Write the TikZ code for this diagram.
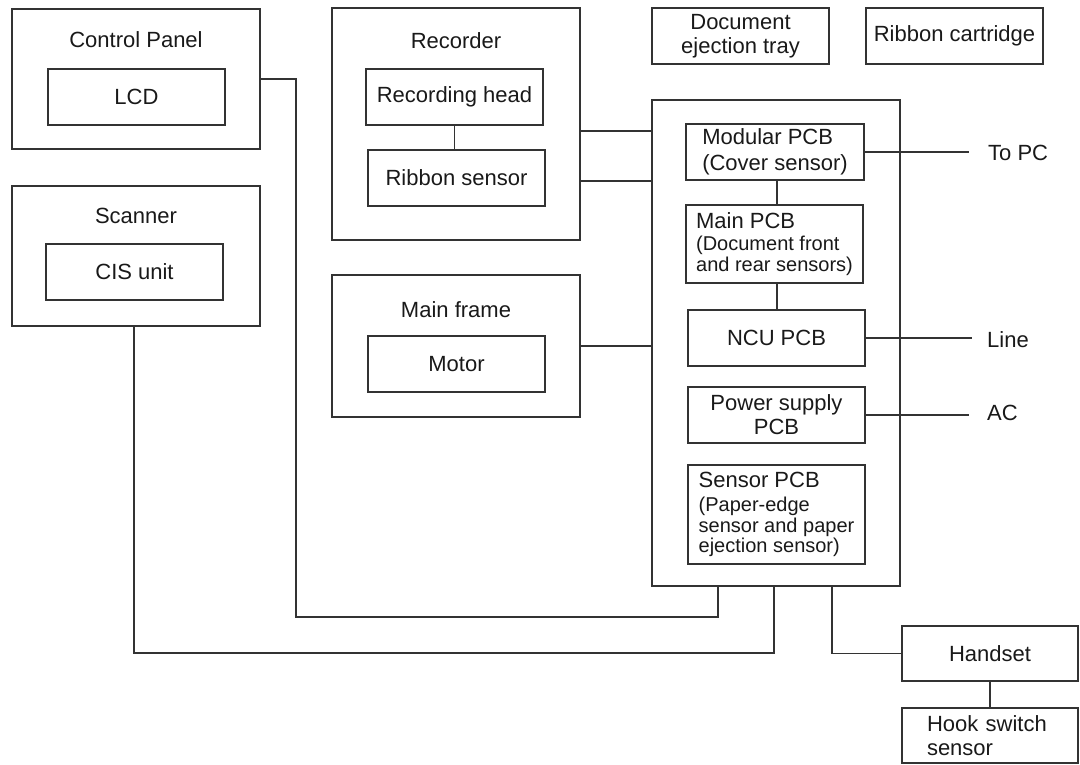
\documentclass[tikz,border=0pt]{standalone}
\usepackage{fontspec}
\setmainfont{Liberation Sans}
\newcommand\mainfs{\fontsize{22}{24}\selectfont}
\newcommand\subfs{\fontsize{20}{20.5}\selectfont}
\begin{document}
\begin{tikzpicture}[x=1pt,y=-1pt,
  every node/.style={font=\mainfs, text=black!90},
  bx/.style 2 args={draw=black!80, line width=1.1pt, inner sep=0pt, minimum width=#1, minimum height=#2},
  wire/.style={draw=black!80, line width=1.1pt},
  ttl/.style={anchor=base, inner sep=0pt},
  lbl/.style={anchor=base west, inner sep=0pt}]
\useasboundingbox (0,0) rectangle (1080,764);
% Control panel
\node[bx={248}{140}] (cp) at (136,79) {};
\node[ttl] (cpt) at (136,47) {Control Panel};
\node[bx={177}{56}] (lcd) at (136.5,97) {LCD};
% Scanner
\node[bx={248}{140}] (sc) at (136,256) {};
\node[ttl] (sct) at (136,223) {Scanner};
\node[bx={177}{56}] (cis) at (134.5,272) {CIS unit};
% Recorder
\node[bx={248}{232}] (rec) at (456,124) {};
\node[ttl] (rect) at (456,48) {Recorder};
\node[bx={177}{56}] (rh) at (454.5,97) {Recording head};
\node[bx={177}{56}] (rs) at (456.5,178) {Ribbon sensor};
% Main frame
\node[bx={248}{142}] (mf) at (456,346) {};
\node[ttl] (mft) at (456,317) {Main frame};
\node[bx={177}{56}] (mot) at (456.5,364) {Motor};
% top right
\node[bx={177}{56}, align=center] (det) at (740.5,36) {Document\\ejection tray};
\node[bx={177}{56}] (rc) at (954.5,36) {Ribbon cartridge};
% main box
\node[bx={248}{486}] (mb) at (776,343) {};
\node[bx={178}{56}, align=left] (mod) at (775,152) {Modular PCB\\[2pt](Cover sensor)};
\node[bx={177}{78}, align=left, font=\subfs] (mpcb) at (774.5,244) {{\mainfs Main PCB}\\[2pt](Document front\\and rear sensors)};
\node[bx={177}{56}] (ncu) at (776.5,338) {NCU PCB};
\node[bx={177}{56}, align=center] (psu) at (776.5,415) {Power supply\\PCB};
\node[bx={177}{99}, align=left, font=\subfs] (sens) at (776.5,514.5) {{\mainfs Sensor PCB}\\[3.5pt](Paper-edge\\sensor and paper\\ejection sensor)};
% handset
\node[bx={176}{55}] (hs) at (990,653.5) {Handset};
\node[bx={176}{55}, align=left, text width=126] (hook) at (990,735.5) {Hook switch\\sensor};
% external labels
\node[lbl] (topc) at (988,160) {To PC};
\node[lbl] (line) at (987,347) {Line};
\node[lbl] (ac) at (987,420) {AC};
\coordinate (e1) at (969,152);
\coordinate (e2) at (972,338);
\coordinate (e3) at (969,415);
% connectors
\coordinate (c1) at (296,617);
\coordinate (c2) at (718,617);
\coordinate (c3) at (134,653);
\coordinate (c4) at (774,653);
\coordinate (c5) at (832,653.5);
\coordinate (r1) at (580,131);
\coordinate (r2) at (580,181);
\coordinate (k) at (777,0);
\draw[wire] (cp.east) -| (c1) -- (c2) -- (c2 |- mb.south);
\draw[wire] (c3 |- sc.south) -- (c3) -- (c4) -- (c4 |- mb.south);
\draw[wire] (c5 |- mb.south) -- (c5) -- (hs.west);
\draw[wire] (hs.south) -- (hook.north);
\draw[wire] (rh.south) -- (rh.south |- rs.north);
\draw[wire] (rec.east |- r1) -- (mb.west |- r1);
\draw[wire] (rec.east |- r2) -- (mb.west |- r2);
\draw[wire] (mf.east) -- (mf.east -| mb.west);
\draw[wire] (k |- mod.south) -- (k |- mpcb.north);
\draw[wire] (k |- mpcb.south) -- (k |- ncu.north);
\draw[wire] (mod.east) -- (e1);
\draw[wire] (ncu.east) -- (e2);
\draw[wire] (psu.east) -- (e3);
\end{tikzpicture}
\end{document}
